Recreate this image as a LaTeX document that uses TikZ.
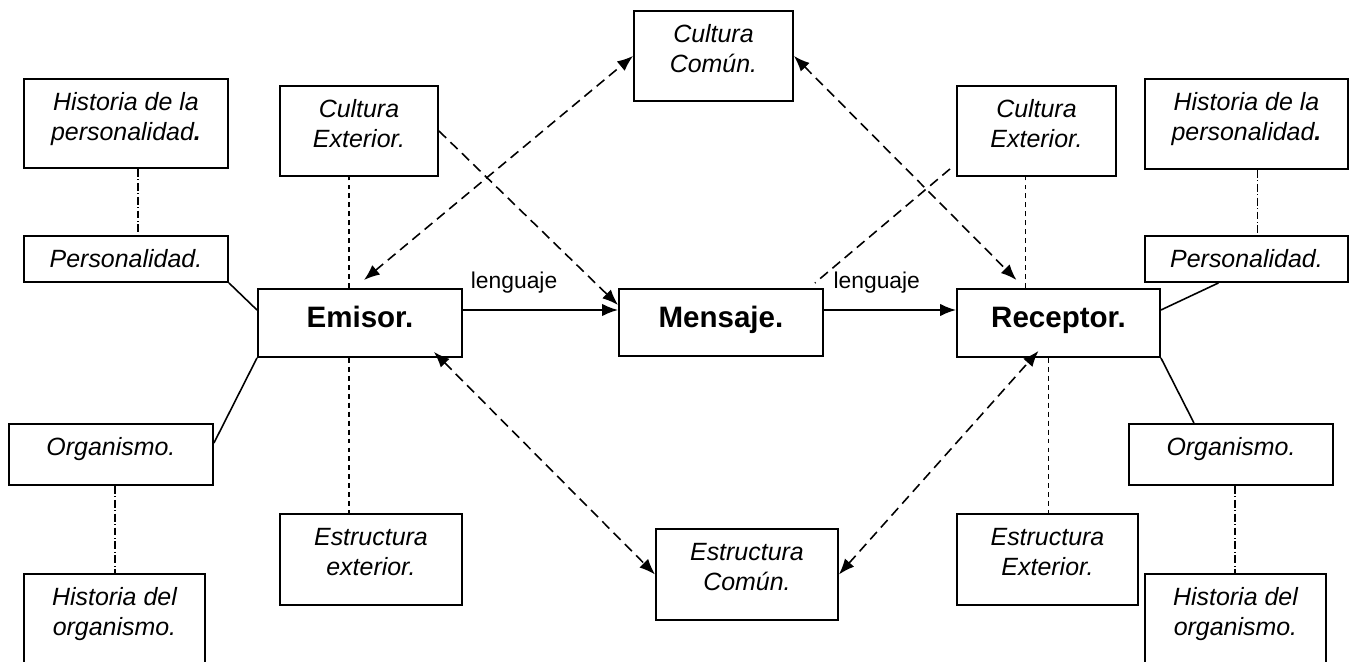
\documentclass[tikz,border=0pt]{standalone}
\usepackage{fontspec}
\setmainfont{Liberation Sans}
\usepackage{tikz}
\usetikzlibrary{arrows.meta}

\newlength{\pxu}
\setlength{\pxu}{0.02cm}
% caja con texto alineado arriba: ancho, alto, texto
\newcommand{\cuadro}[3]{\parbox[c][#2\pxu][t]{#1\pxu}{\centering\rule{0pt}{18pt}#3}}
\newcommand{\cuadrog}[3]{\parbox[c][#2\pxu][t]{#1\pxu}{\centering\rule{0pt}{22pt}#3}}

\tikzset{
  caja/.style={draw,black,line width=1.1pt,inner sep=0pt,anchor=north west,
    font=\fontsize{14.2}{17}\selectfont\itshape},
  principal/.style={caja,font=\fontsize{16.8}{20}\selectfont\bfseries},
  linea/.style={black,line width=0.9pt},
  raya/.style={black,line width=0.9pt,dash pattern=on 2.8pt off 2.3pt},
  rayal/.style={black,line width=0.9pt,dash pattern=on 5.7pt off 3.4pt},
  rayapunto/.style={black,line width=0.7pt,dash pattern=on 4.5pt off 1.5pt on 0.4pt off 1.5pt},
  flecha/.style={-{Latex[length=9pt,width=7pt]}},
  dobleflecha/.style={{Latex[length=9pt,width=7pt]}-{Latex[length=9pt,width=7pt]}},
  etiqueta/.style={font=\fontsize{13}{15}\selectfont,above=5.5pt}
}

\begin{document}
\begin{tikzpicture}[x=0.02cm,y=-0.02cm]
            \clip (0,0) rectangle (1349,662);

            % lado del emisor
            \node[caja] (hpL) at (23,78) {\cuadro{204}{89}{Historia de la\\personalidad\textbf{.}}};
            \node[caja] (pL) at (23,235) {\cuadro{204}{46}{Personalidad.}};
            \node[caja] (oL) at (8,423) {\cuadro{204}{61}{Organismo.}};
            \node[caja] (hoL) at (23,573) {\cuadro{181}{110}{Historia del\\organismo.}};
            \node[caja] (ceL) at (279,85) {\cuadro{158}{90}{Cultura\\Exterior.}};
            \node[caja] (eeL) at (279,513) {\cuadro{182}{91}{Estructura\\exterior.}};
            \node[principal] (emisor) at (257,288) {\cuadrog{204}{68}{Emisor.}};

            % centro
            \node[caja] (cc) at (633,10) {\cuadro{159}{90}{Cultura\\Común.}};
            \node[principal] (mensaje) at (618,288) {\cuadrog{204}{67}{Mensaje.}};
            \node[caja] (ec) at (655,528) {\cuadro{182}{91}{Estructura\\Común.}};

            % lado del receptor
            \node[caja] (ceR) at (956,85) {\cuadro{159}{90}{Cultura\\Exterior.}};
            \node[principal] (receptor) at (956,288) {\cuadrog{203}{68}{Receptor.}};
            \node[caja] (eeR) at (956,513) {\cuadro{181}{91}{Estructura\\Exterior.}};
            \node[caja] (hpR) at (1144,78) {\cuadro{203}{90}{Historia de la\\personalidad\textbf{.}}};
            \node[caja] (pR) at (1144,235) {\cuadro{203}{46}{Personalidad.}};
            \node[caja] (oR) at (1128,423) {\cuadro{204}{61}{Organismo.}};
            \node[caja] (hoR) at (1144,573) {\cuadro{181}{110}{Historia del\\organismo.}};

            % lenguaje
            \draw[linea,flecha] ([yshift=-22\pxu]emisor.north east) --
                node[etiqueta,pos=0.33] (len1) {lenguaje} ([yshift=-22\pxu]emisor.north east -| mensaje.west);
            \draw[linea,flecha] ([yshift=-22\pxu]mensaje.north east) --
                node[etiqueta,pos=0.4] (len2) {lenguaje} ([yshift=-22\pxu]mensaje.north east -| receptor.west);

            % lineas del emisor
            \draw[rayapunto] ([xshift=12\pxu]hpL.south) -- ([xshift=12\pxu]pL.north);
            \draw[linea] (pL.south east) -- ([yshift=-22\pxu]emisor.north west);
            \draw[linea] (emisor.south west) -- ([yshift=-20\pxu]oL.north east);
            \draw[rayapunto] ([xshift=4\pxu]oL.south) -- ([xshift=4\pxu]oL.south |- hoL.north);
            \draw[raya] ([xshift=-11\pxu]emisor.north) -- ([xshift=-11\pxu]emisor.north |- ceL.south);
            \draw[raya] ([xshift=-11\pxu]emisor.south) -- ([xshift=-11\pxu]emisor.south |- eeL.north);

            % lineas del receptor
            \draw[rayapunto] ([xshift=11\pxu]hpR.south) -- ([xshift=11\pxu]pR.north);
            \draw[linea] ([yshift=-22\pxu]receptor.north east) -- ([xshift=-28\pxu]pR.south);
            \draw[linea] (receptor.south east) -- ([xshift=-37\pxu]oR.north);
            \draw[rayapunto] ([xshift=4\pxu]oR.south) -- ([xshift=4\pxu]oR.south |- hoR.north);
            \draw[raya] ([xshift=-33\pxu]receptor.north) -- ([xshift=-33\pxu]receptor.north |- ceR.south);
            \draw[raya] ([xshift=-10\pxu]receptor.south) -- ([xshift=-10\pxu]receptor.south |- eeR.north);

            % cultura y estructura
            \draw[rayal,flecha] (ceL.east) -- ([yshift=-17\pxu]mensaje.north west);
            \draw[rayal] ([xshift=-6\pxu,yshift=8\pxu]ceR.south west) -- ([xshift=-9\pxu,yshift=5\pxu]mensaje.north east);
            \draw[rayal,dobleflecha] ([xshift=4\pxu,yshift=8\pxu]emisor.north) -- (cc.west);
            \draw[rayal,dobleflecha] ([xshift=-29\pxu,yshift=6\pxu]emisor.south east) -- (ec.west);
            \draw[rayal,dobleflecha] (cc.east) -- ([xshift=-42\pxu,yshift=8\pxu]receptor.north);
            \draw[rayal,dobleflecha] (ec.east) -- ([xshift=-20\pxu,yshift=7\pxu]receptor.south);
        \end{tikzpicture}
\end{document}
